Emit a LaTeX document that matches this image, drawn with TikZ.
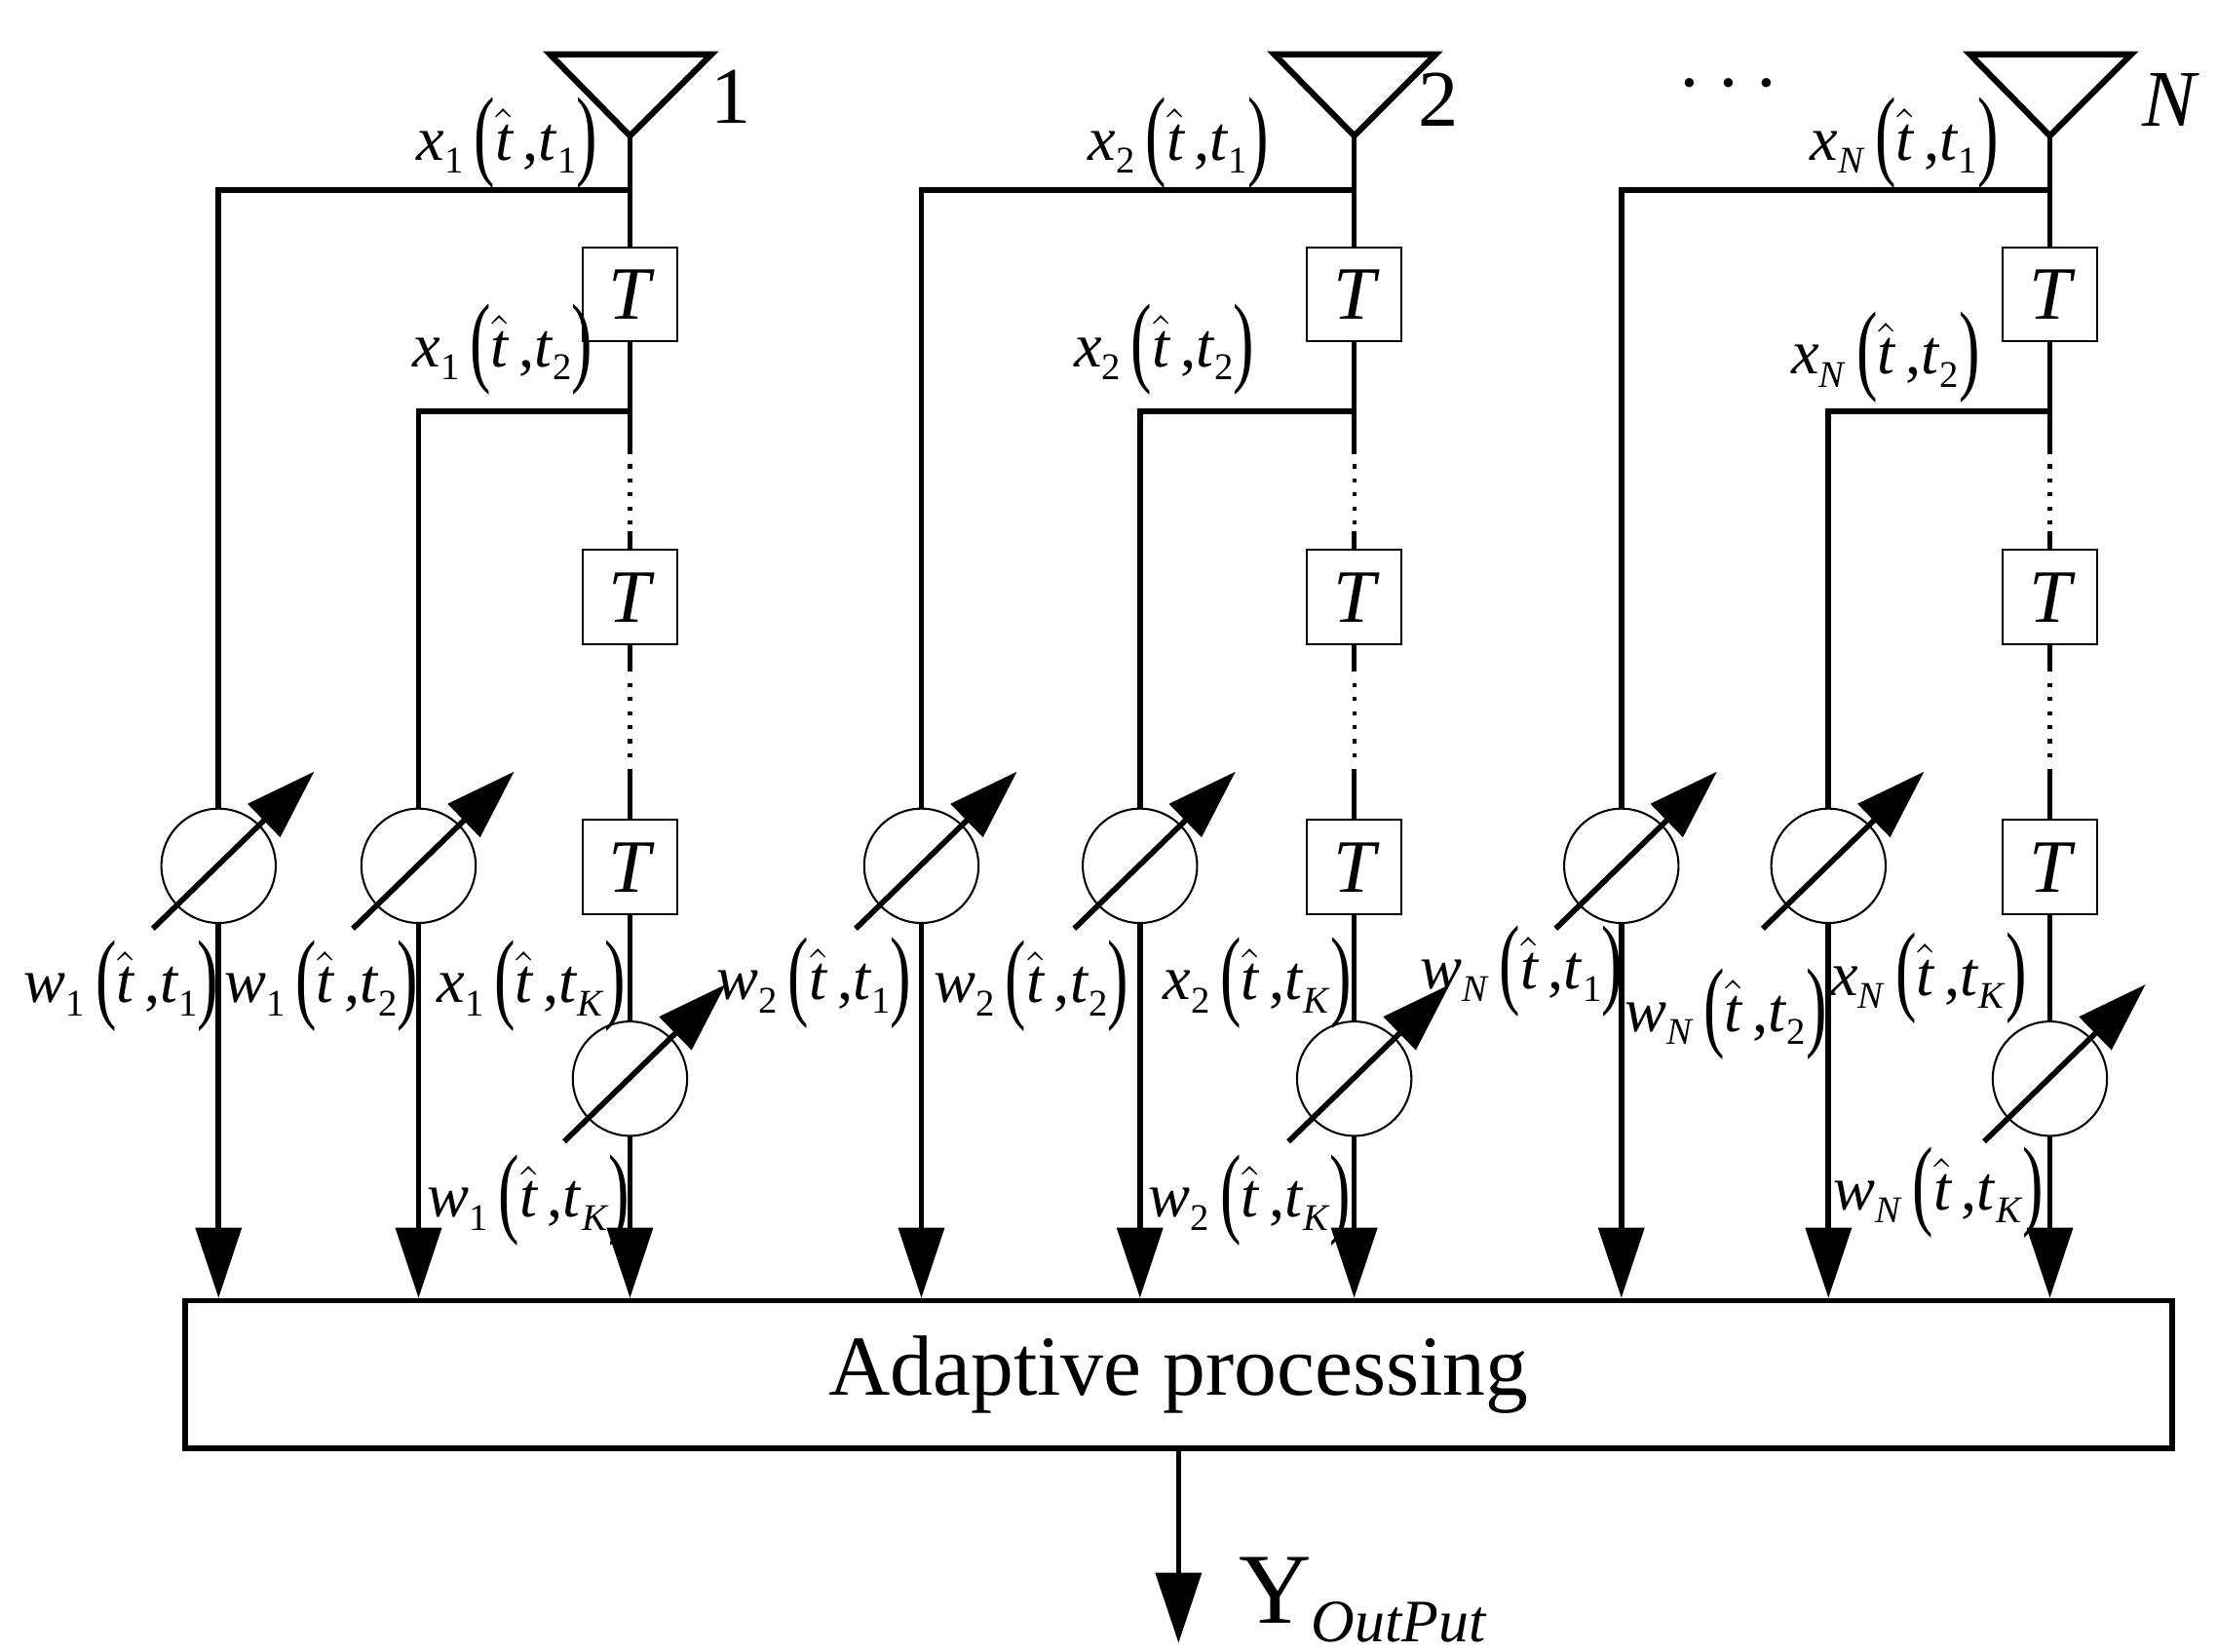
\documentclass[tikz,border=0pt]{standalone}
\usepackage{fontspec}
\usepackage{graphicx}
\setmainfont{Liberation Serif}
\usetikzlibrary{arrows.meta}
\newcommand\sbs[1]{\raisebox{-0.45ex}{\fontsize{7.5}{8}\selectfont #1}}
\newcommand\lbl[3]{\textit{#1}\sbs{#2}\,\raisebox{-0.25ex}{\scalebox{1}[1.6]{(}}$\hat{\textit{t}}$\,,\textit{t}\sbs{#3}\raisebox{-0.25ex}{\scalebox{1}[1.6]{)}}}
\begin{document}
\begin{tikzpicture}[x=0.01cm,y=-0.01cm,
  wire/.style={line width=1.1pt},
  arr/.style={wire,-{Triangle[length=14pt,width=9pt]}},
  tbox/.style={draw,line width=0.4pt,minimum size=0.66cm,inner sep=0pt,font=\fontsize{15}{18}\selectfont\itshape},
  wt/.style={draw,circle,line width=0.4pt,minimum size=0.8cm,inner sep=0pt},
  lab/.style={font=\fontsize{12.5}{15}\selectfont,inner sep=0pt},
  dots/.style={line width=0.8pt,dotted}]
\useasboundingbox (0,0) rectangle (1552,1156);
\node[draw,line width=1.1pt,minimum width=13.9cm,minimum height=1.03cm] (ap) at (825,962) {\fontsize{17}{20}\selectfont Adaptive processing};
\coordinate (yo) at (825,1150);
\draw[arr] (ap.south -| yo) -- (yo);
\node[anchor=west,font=\fontsize{20}{24}\selectfont] (yl) at (855,1120) {Y\raisebox{-0.4ex}{\fontsize{12}{14}\selectfont\itshape OutPut}};
\foreach \i/\a/\b/\c/\ax/\ay in {1/441/153/293/512/68, 2/948/645/798/1007/70, 3/1435/1135/1280/1520/70}{
  \draw[line width=1.2pt] (\a-56,38) -- (\a+57,38) -- (\a,95) -- cycle;
  \coordinate (ant\i) at (\a,95);
  \node[font=\fontsize{16}{18}\selectfont] (an\i) at (\ax,\ay) {\ifnum\i=3 \textit{N}\else\i\fi};
  \coordinate (j1\i) at (\a,133);
  \coordinate (j2\i) at (\a,288);
  \node[tbox] (T1\i) at (\a,206) {T};
  \node[tbox] (T2\i) at (\a,418) {T};
  \node[tbox] (T3\i) at (\a,607) {T};
  \node[wt] (wk\i) at (\a,755) {};
  \node[wt] (w1\i) at (\b,606) {};
  \node[wt] (w2\i) at (\c,606) {};
  \draw[wire] (ant\i) -- (j1\i) -- (T1\i.north);
  \draw[wire] (T1\i.south) -- (j2\i) -- (\a,318);
  \draw[dots] (\a,325) -- (\a,368);
  \draw[wire] (\a,372) -- (T2\i.north);
  \draw[wire] (T2\i.south) -- (\a,470);
  \draw[dots] (\a,478) -- (\a,532);
  \draw[wire] (\a,538) -- (T3\i.north);
  \draw[wire] (T3\i.south) -- (wk\i.north);
  \draw[wire] (j1\i) -- (\b,133) -- (w1\i.north);
  \draw[wire] (j2\i) -- (\c,288) -- (w2\i.north);
  \draw[arr] (w1\i.south) -- (w1\i.south |- ap.north);
  \draw[arr] (w2\i.south) -- (w2\i.south |- ap.north);
  \draw[arr] (wk\i.south) -- (wk\i.south |- ap.north);
  \foreach \w in {w1\i,w2\i,wk\i}{
    \draw[wire,-{Triangle[length=14pt,width=9pt]}] ([shift={(-46,44)}]\w.center) -- ([shift={(67,-66)}]\w.center);
  }
}
\node[lab] (l1) at (355,100) {\lbl{x}{1}{1}};
\node[lab] (l2) at (352,245) {\lbl{x}{1}{2}};
\node[lab] (l3) at (372,690) {\lbl{x}{1}{\textit{K}}};
\node[lab] (l4) at (85,690) {\lbl{w}{1}{1}};
\node[lab] (l5) at (225,690) {\lbl{w}{1}{2}};
\node[lab] (l6) at (370,840) {\lbl{w}{1}{\textit{K}}};
\node[lab] (m1) at (825,100) {\lbl{x}{2}{1}};
\node[lab] (m2) at (815,245) {\lbl{x}{2}{2}};
\node[lab] (m3) at (880,688) {\lbl{x}{2}{\textit{K}}};
\node[lab] (m4) at (570,688) {\lbl{w}{2}{1}};
\node[lab] (m5) at (722,690) {\lbl{w}{2}{2}};
\node[lab] (m6) at (875,840) {\lbl{w}{2}{\textit{K}}};
\node[lab] (n1) at (1333,100) {\lbl{x}{\textit{N}}{1}};
\node[lab] (n2) at (1320,250) {\lbl{x}{\textit{N}}{2}};
\node[lab] (n3) at (1350,685) {\lbl{x}{\textit{N}}{\textit{K}}};
\node[lab] (n4) at (1065,680) {\lbl{w}{\textit{N}}{1}};
\node[lab] (n5) at (1208,710) {\lbl{w}{\textit{N}}{2}};
\node[lab] (n6) at (1357,835) {\lbl{w}{\textit{N}}{\textit{K}}};
\node[font=\fontsize{18}{20}\selectfont] (dd) at (1210,60) {$\cdots$};
\end{tikzpicture}
\end{document}
